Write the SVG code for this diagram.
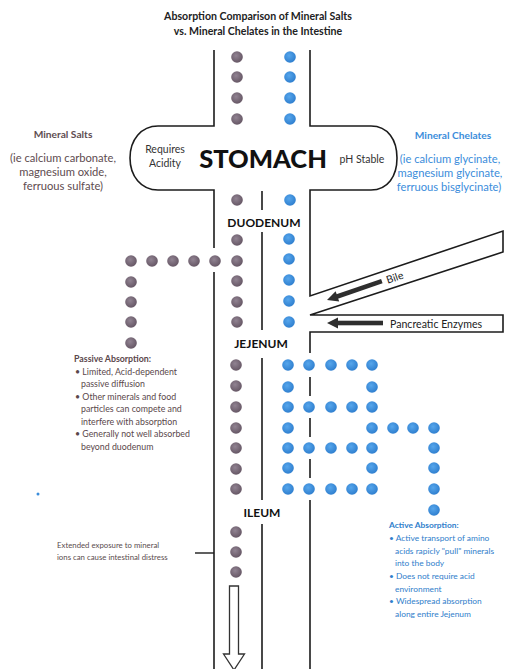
<svg xmlns="http://www.w3.org/2000/svg" width="514" height="669" viewBox="0 0 514 669">
<defs>
<radialGradient id="gg" cx="42%" cy="38%" r="62%"><stop offset="0" stop-color="#918392"/><stop offset="1" stop-color="#665765"/></radialGradient>
<radialGradient id="bgr" cx="42%" cy="38%" r="62%"><stop offset="0" stop-color="#56a6ec"/><stop offset="1" stop-color="#2f7fcf"/></radialGradient>
<circle id="g" r="5.8" fill="url(#gg)"/>
<circle id="b" r="5.8" fill="url(#bgr)"/>
</defs>
<style>
.w{fill:none;stroke:#1c1c1c;stroke-width:1.6}
.t{font-family:Lato,"Liberation Sans",sans-serif}
.ttl{font-size:10.6px;font-weight:bold;fill:#222;text-anchor:middle}
.sec{font-size:12px;font-weight:bold;fill:#111;text-anchor:middle}
.salt{fill:#5e4c50;text-anchor:middle;font-size:11.2px}
.chel{fill:#3b8ddb;text-anchor:middle;font-size:11.2px}
.hd{font-weight:bold;font-size:10.2px}
.pas{fill:#5a474b;font-size:8.8px}
.act{fill:#2f7ecb;font-size:8.4px}
.sm{fill:#333;font-size:10.5px;text-anchor:middle}
.arr{fill:#2e2e2e}
</style>
<rect width="514" height="669" fill="#fff"/>

<g id="title" class="t">
<text class="ttl" x="258" y="20">Absorption Comparison of Mineral Salts</text>
<text class="ttl" x="258" y="35">vs. Mineral Chelates in the Intestine</text>
</g>

<g id="intestine">
<path class="w" d="M214,50 V126 H158 C141,126 130,140 130,158 C130,176 141,190 158,190 H214 V248"/>
<path class="w" d="M214,272 V669"/>
<path class="w" d="M310,50 V126 H371 C388,126 397,140 397,158 C397,176 388,190 371,190 H310 V296 L503,231 V252 L310,315 H503 V332 H310 V353"/>
<path class="w" d="M310,377 V396 M310,418 V437 M310,459 V478 M310,500 V669"/>
<path class="w" d="M262,191 V210 M262,232 V330 M262,358 V500 M262,524 V669"/>
</g>

<g id="stomach" class="t">
<text x="263" y="168" font-size="25.5" font-weight="900" fill="#111" text-anchor="middle">STOMACH</text>
<text class="sm" x="165" y="153">Requires</text>
<text class="sm" x="165" y="167">Acidity</text>
<text class="sm" x="362" y="163">pH Stable</text>
</g>

<g id="mineral-salts" class="t">
<text class="salt hd" x="63" y="138">Mineral Salts</text>
<text class="salt" x="63" y="162">(ie calcium carbonate,</text>
<text class="salt" x="63" y="176">magnesium oxide,</text>
<text class="salt" x="63" y="190">ferruous sulfate)</text>
</g>

<g id="mineral-chelates" class="t">
<text class="chel hd" x="453" y="139">Mineral Chelates</text>
<text class="chel" x="450" y="163">(ie calcium glycinate,</text>
<text class="chel" x="450" y="177">magnesium glycinate,</text>
<text class="chel" x="449" y="191">ferruous bisglycinate)</text>
</g>

<g id="duodenum" class="t"><text class="sec" x="264" y="227">DUODENUM</text></g>
<g id="jejenum" class="t"><text class="sec" x="261" y="348">JEJENUM</text></g>
<g id="ileum" class="t"><text class="sec" x="262" y="517">ILEUM</text></g>

<g id="bile" class="t">
<text x="396" y="281" font-size="10.5" fill="#222" text-anchor="middle" transform="rotate(-19 396 281)">Bile</text>
</g>
<g id="pancreatic" class="t">
<text x="390" y="327.5" font-size="10.6" fill="#222">Pancreatic Enzymes</text>
</g>

<g id="salt-dots">
<use href="#g" x="237" y="57"/><use href="#g" x="237" y="77"/><use href="#g" x="237" y="98"/><use href="#g" x="237" y="119"/>
<use href="#g" x="237" y="200"/>
<use href="#g" x="237" y="240"/><use href="#g" x="237" y="261"/><use href="#g" x="237" y="281"/><use href="#g" x="237" y="302"/><use href="#g" x="237" y="322"/>
<use href="#g" x="131" y="261"/><use href="#g" x="152" y="261"/><use href="#g" x="173" y="261"/><use href="#g" x="194" y="261"/><use href="#g" x="215" y="261"/>
<use href="#g" x="131" y="282"/><use href="#g" x="131" y="302"/><use href="#g" x="131" y="322"/><use href="#g" x="131" y="343"/>
<use href="#g" x="236" y="365"/><use href="#g" x="236" y="386"/><use href="#g" x="236" y="407"/><use href="#g" x="236" y="428"/><use href="#g" x="236" y="448"/><use href="#g" x="236" y="469"/><use href="#g" x="236" y="489"/>
<use href="#g" x="236" y="532"/><use href="#g" x="236" y="552"/><use href="#g" x="236" y="572"/>
</g>

<g id="chelate-dots">
<use href="#b" x="290" y="57"/><use href="#b" x="290" y="77"/><use href="#b" x="290" y="98"/><use href="#b" x="290" y="119"/>
<use href="#b" x="290" y="200"/>
<use href="#b" x="289" y="239"/><use href="#b" x="289" y="259"/><use href="#b" x="289" y="280"/><use href="#b" x="289" y="301"/><use href="#b" x="289" y="322"/>
<use href="#b" x="288" y="365"/><use href="#b" x="309" y="365"/><use href="#b" x="331" y="365"/><use href="#b" x="352" y="365"/><use href="#b" x="372" y="365"/>
<use href="#b" x="288" y="387"/><use href="#b" x="372" y="387"/>
<use href="#b" x="288" y="407"/><use href="#b" x="309" y="407"/><use href="#b" x="331" y="407"/><use href="#b" x="352" y="407"/><use href="#b" x="372" y="407"/>
<use href="#b" x="288" y="428"/><use href="#b" x="372" y="428"/><use href="#b" x="393" y="428"/><use href="#b" x="413" y="428"/><use href="#b" x="434" y="428"/>
<use href="#b" x="288" y="448"/><use href="#b" x="309" y="448"/><use href="#b" x="331" y="448"/><use href="#b" x="352" y="448"/><use href="#b" x="372" y="448"/><use href="#b" x="434" y="448"/>
<use href="#b" x="288" y="468"/><use href="#b" x="372" y="468"/><use href="#b" x="434" y="468"/>
<use href="#b" x="288" y="489"/><use href="#b" x="309" y="489"/><use href="#b" x="331" y="489"/><use href="#b" x="352" y="489"/><use href="#b" x="372" y="489"/><use href="#b" x="434" y="489"/>
<use href="#b" x="434" y="510"/>
<circle cx="38" cy="494" r="1.5" fill="#3b8ddb"/>
</g>

<g id="passive-absorption" class="t pas">
<text x="74" y="362" font-weight="bold">Passive Absorption:</text>
<text x="75" y="374.5">• Limited, Acid-dependent</text>
<text x="81" y="387">passive diffusion</text>
<text x="75" y="399.5">• Other minerals and food</text>
<text x="81" y="412">particles can compete and</text>
<text x="81" y="424.5">interfere with absorption</text>
<text x="75" y="437">• Generally not well absorbed</text>
<text x="81" y="449.5">beyond duodenum</text>
</g>

<g id="active-absorption" class="t act">
<text x="389" y="528" font-weight="bold">Active Absorption:</text>
<text x="389" y="541">• Active transport of amino</text>
<text x="395" y="553.5">acids rapicly "pull" minerals</text>
<text x="395" y="566">into the body</text>
<text x="389" y="579">• Does not require acid</text>
<text x="395" y="591.5">environment</text>
<text x="389" y="604">• Widespread absorption</text>
<text x="395" y="617">along entire Jejenum</text>
</g>

<g id="extended-note" class="t">
<text x="57" y="548" font-size="7.8" fill="#5a4c4e">Extended exposure to mineral</text>
<text x="57" y="560" font-size="7.8" fill="#5a4c4e">ions can cause intestinal distress</text>
</g>

<g id="connectors">
<line x1="195" y1="553" x2="214" y2="553" stroke="#1c1c1c" stroke-width="1.4"/>
<g transform="translate(327,300) rotate(-19)">
<polygon class="arr" points="0,0 11,-5.5 11,5.5"/>
<rect class="arr" x="10" y="-2.3" width="48" height="4.6"/>
</g>
<polygon class="arr" points="327,323 338,317.5 338,328.5"/>
<rect class="arr" x="337" y="320.7" width="46" height="4.6"/>
<path d="M229.5,586 H238.5 V654 H244.5 L234,670 L223.5,654 H229.5 Z" fill="#fff" stroke="#333" stroke-width="1.3"/>
</g>
</svg>
